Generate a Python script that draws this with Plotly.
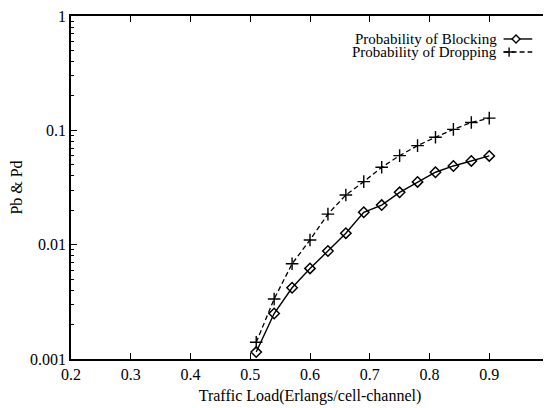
import plotly.graph_objects as go

load = [0.51, 0.54, 0.57, 0.60, 0.63, 0.66, 0.69, 0.72, 0.75, 0.78, 0.81, 0.84, 0.87, 0.90]
p_block = [0.00115, 0.0025, 0.0042, 0.0062, 0.0088, 0.0126, 0.0192, 0.0222, 0.0287, 0.0354, 0.043, 0.0488, 0.054, 0.0597]
p_drop = [0.0014, 0.00335, 0.0068, 0.011, 0.0185, 0.0272, 0.0356, 0.0475, 0.0601, 0.0735, 0.087, 0.102, 0.117, 0.128]

x_ticks = [0.2, 0.3, 0.4, 0.5, 0.6, 0.7, 0.8, 0.9, 1.0]
x_ticktext = ["0.2", "0.3", "0.4", "0.5", "0.6", "0.7", "0.8", "0.9", ""]
x_last_label = "1"
y_ticks = [0.001, 0.01, 0.1, 1]
y_ticktext = ["0.001", "0.01", "0.1", "1"]
legend_names = ["Probability of Blocking", "Probability of Dropping"]

FONT = "Liberation Serif"

fig = go.Figure()
fig.add_trace(go.Scatter(
    x=load, y=p_block, mode="lines+markers", name=legend_names[0],
    line=dict(color="black", width=1.4),
    marker=dict(symbol="diamond-open", size=8, color="black", line=dict(width=1.5, color="black")),
    showlegend=False,
))
fig.add_trace(go.Scatter(
    x=load, y=p_drop, mode="lines+markers", name=legend_names[1],
    line=dict(color="black", width=1.3, dash="5px,3px"),
    marker=dict(symbol="cross-thin", size=9, color="black", line=dict(width=1.4, color="black")),
    showlegend=False,
))

# legend (text right-aligned, sample to the right)
legend_y = [0.933, 0.895]
for name, yy in zip(legend_names, legend_y):
    fig.add_annotation(
        x=0.893, y=yy, xref="paper", yref="paper", text=name, showarrow=False,
        xanchor="right", yanchor="middle", font=dict(family=FONT, size=15, color="black"),
        borderpad=0,
    )
# blocking sample: solid line + diamond
fig.add_shape(type="line", xref="paper", yref="paper", x0=0.905, x1=0.965, y0=legend_y[0], y1=legend_y[0],
              line=dict(color="black", width=1.4))
fig.add_shape(type="path", xref="paper", yref="paper",
              path="M 0.9227,{c} L 0.9310,{t} L 0.9393,{c} L 0.9310,{b} Z".format(
                  c=legend_y[0], t=legend_y[0] + 0.0115, b=legend_y[0] - 0.0115),
              line=dict(color="black", width=1.4), fillcolor="white")
# dropping sample: dashed line + plus
fig.add_shape(type="line", xref="paper", yref="paper", x0=0.905, x1=0.965, y0=legend_y[1], y1=legend_y[1],
              line=dict(color="black", width=1.3, dash="5px,3px"))
fig.add_shape(type="line", xref="paper", yref="paper", x0=0.905, x1=0.928, y0=legend_y[1], y1=legend_y[1],
              line=dict(color="black", width=1.4))
fig.add_shape(type="line", xref="paper", yref="paper", x0=0.9165, x1=0.9165,
              y0=legend_y[1] - 0.0135, y1=legend_y[1] + 0.0135,
              line=dict(color="black", width=1.4))

# last x tick label (at x = 1, the right end), kept inside the page edge
fig.add_annotation(
    x=0.993, y=-0.005, xref="paper", yref="paper", text=x_last_label, showarrow=False,
    xanchor="center", yanchor="top",
    font=dict(family=FONT, size=16, color="black"), borderpad=0,
)

fig.update_layout(
    width=543, height=400,
    margin=dict(l=63, r=2, t=8, b=49, autoexpand=False),
    paper_bgcolor="white", plot_bgcolor="white",
    font=dict(family=FONT, size=16, color="black"),
    showlegend=False,
)
fig.update_xaxes(
    range=[0.2, 1.0], tickvals=x_ticks, ticktext=x_ticktext,
    ticks="inside", ticklen=6, tickwidth=1.4, tickcolor="black",
    showline=True, linecolor="black", linewidth=1.6, mirror="allticks",
    showgrid=False, zeroline=False, ticklabeloverflow="allow",
    tickfont=dict(family=FONT, size=16),
    title=dict(text="Traffic Load(Erlangs/cell-channel)", font=dict(family=FONT, size=16), standoff=8),
)
fig.update_yaxes(
    type="log", range=[-3, 0], tickvals=y_ticks, ticktext=y_ticktext,
    ticks="inside", ticklen=6, tickwidth=1.4, tickcolor="black",
    minor=dict(ticks="inside", ticklen=3.5, tickwidth=1.4, tickcolor="black", dtick="D1", showgrid=False),
    showline=True, linecolor="black", linewidth=1.6, mirror="allticks",
    showgrid=False, zeroline=False, ticklabeloverflow="allow",
    tickfont=dict(family=FONT, size=16),
    title=dict(text="Pb & Pd", font=dict(family=FONT, size=16), standoff=10),
)

fig.write_html("out.html")
